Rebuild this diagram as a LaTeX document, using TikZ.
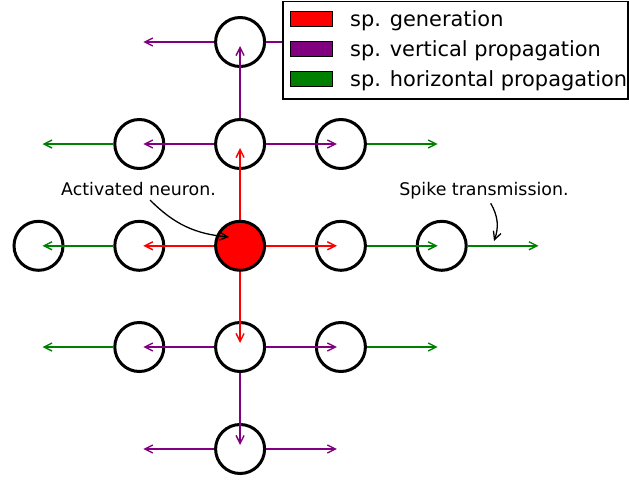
\documentclass[tikz,border=0pt]{standalone}
\usepackage{fontspec}
\setmainfont{DejaVu Sans}
\usetikzlibrary{arrows.meta}
\definecolor{mpurple}{RGB}{128,0,128}
\definecolor{mgreen}{RGB}{0,128,0}
\begin{document}
\begin{tikzpicture}[x=1pt,y=-1pt,
  neuron/.style={circle,draw=black,line width=3pt,minimum size=49pt,inner sep=0pt},
  sig/.style={line width=1.5pt,shorten >=4pt,-{Straight Barb[length=8pt,width=8pt,line width=1.4pt]}},
  gen/.style={sig,draw=red},
  vert/.style={sig,draw=mpurple},
  horz/.style={sig,draw=mgreen},
  note/.style={line width=1.3pt,-{Straight Barb[length=8pt,width=8pt,line width=1.3pt]}},
  lab/.style={font=\fontsize{17.4}{20}\selectfont,anchor=base,inner sep=0pt},
  legtxt/.style={font=\fontsize{20.9}{24}\selectfont,anchor=base west,inner sep=0pt},
  patch/.style={draw=black,line width=0.8pt,minimum width=42pt,minimum height=14.5pt,inner sep=0pt}]
\useasboundingbox (0,0) rectangle (629,480);
% grid
\def\Xa{38.5}\def\Xb{139.3}\def\Xc{240.1}\def\Xd{340.9}\def\Xe{441.7}\def\Xf{542.5}
\def\Ya{42}\def\Yb{144}\def\Yc{245.8}\def\Yd{347}\def\Ye{449}
% neurons
\node[neuron] (n20) at (\Xc,\Ya) {};
\node[neuron] (n11) at (\Xb,\Yb) {};
\node[neuron] (n21) at (\Xc,\Yb) {};
\node[neuron] (n31) at (\Xd,\Yb) {};
\node[neuron] (n02) at (\Xa,\Yc) {};
\node[neuron] (n12) at (\Xb,\Yc) {};
\node[neuron,fill=red] (n22) at (\Xc,\Yc) {};
\node[neuron] (n32) at (\Xd,\Yc) {};
\node[neuron] (n42) at (\Xe,\Yc) {};
\node[neuron] (n13) at (\Xb,\Yd) {};
\node[neuron] (n23) at (\Xc,\Yd) {};
\node[neuron] (n33) at (\Xd,\Yd) {};
\node[neuron] (n24) at (\Xc,\Ye) {};
% free ends
\coordinate (f10) at (\Xb,\Ya);
\coordinate (f30) at (\Xd,\Ya);
\coordinate (f01) at (\Xa,\Yb);
\coordinate (f41) at (\Xe,\Yb);
\coordinate (f52) at (\Xf,\Yc);
\coordinate (f03) at (\Xa,\Yd);
\coordinate (f43) at (\Xe,\Yd);
\coordinate (f14) at (\Xb,\Ye);
\coordinate (f34) at (\Xd,\Ye);
% generation
\draw[gen] (n22) -- (n12.center);
\draw[gen] (n22) -- (n32.center);
\draw[gen] (n22) -- (n21.center);
\draw[gen] (n22) -- (n23.center);
% vertical propagation
\draw[vert] (n21) -- (n11.center);
\draw[vert] (n21) -- (n31.center);
\draw[vert] (n21) -- (n20.center);
\draw[vert] (n20) -- (f10);
\draw[vert] (n20) -- (f30);
\draw[vert] (n23) -- (n13.center);
\draw[vert] (n23) -- (n33.center);
\draw[vert] (n23) -- (n24.center);
\draw[vert] (n24) -- (f14);
\draw[vert] (n24) -- (f34);
% horizontal propagation
\draw[horz] (n12) -- (n02.center);
\draw[horz] (n32) -- (n42.center);
\draw[horz] (n42) -- (f52);
\draw[horz] (n11) -- (f01);
\draw[horz] (n31) -- (f41);
\draw[horz] (n13) -- (f03);
\draw[horz] (n33) -- (f43);
% annotations
\node[lab] (t1) at (138.5,195) {Activated neuron.};
\node[lab] (t2) at (484,195) {Spike transmission.};
\coordinate (a1s) at (150,200);
\coordinate (a1e) at (229,237);
\coordinate (a2s) at (490.7,203.3);
\coordinate (a2e) at (494,241);
\draw[note] (a1s) to[bend right=20] (a1e);
\draw[note] (a2s) to[bend left=25] (a2e);
% legend
\draw[line width=1.2pt,fill=white] (283,1.5) rectangle (628,99) ;
\node[patch,fill=red] (p1) at (311.3,18.8) {};
\node[patch,fill=mpurple] (p2) at (311.3,48.8) {};
\node[patch,fill=mgreen] (p3) at (311.3,79) {};
\node[legtxt] (l1) at (350,26.7) {sp. generation};
\node[legtxt] (l2) at (350,56.7) {sp. vertical propagation};
\node[legtxt] (l3) at (350,86.7) {sp. horizontal propagation};
\end{tikzpicture}
\end{document}
